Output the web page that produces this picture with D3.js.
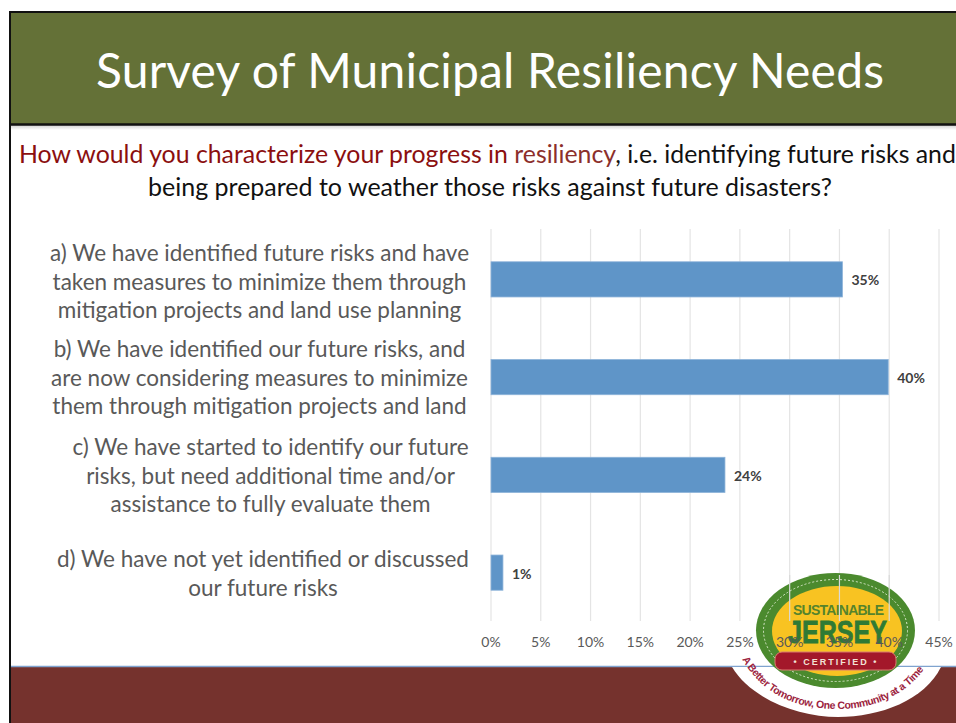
<!DOCTYPE html>
<html>
<head>
<meta charset="utf-8">
<script src="https://cdn.jsdelivr.net/npm/d3@7"></script>
<style>
    html, body { margin: 0; padding: 0; background: #fff; }
    svg { display: block; }
    text { font-family: Lato, "Open Sans", sans-serif; }
</style>
</head>
<body>
<div id="chart"></div>
<script>
// chart data
const categories = ["a", "b", "c", "d"];
const values = [35.3, 39.9, 23.5, 1.2];
const valueLabels = ["35%", "40%", "24%", "1%"];
const tickValues = [0, 5, 10, 15, 20, 25, 30, 35, 40, 45];
const categoryLines = [
    ["a) We have identified future risks and have", "taken measures to minimize them through", "mitigation projects and land use planning"],
    ["b) We have identified our future risks, and", "are now considering measures to minimize", "them through mitigation projects and land"],
    ["c) We have started to identify our future", "risks, but need additional time and/or", "assistance to fully evaluate them"],
    ["d) We have not yet identified or discussed", "our future risks"]
];
const titleText = "Survey of Municipal Resiliency Needs";

const width = 956, height = 723;
const svg = d3.select("#chart").append("svg")
    .attr("width", width)
    .attr("height", height);

// soft shadow under the header
const shadow = svg.append("defs").append("linearGradient")
    .attr("id", "headerShadow")
    .attr("x1", 0).attr("x2", 0).attr("y1", 0).attr("y2", 1);
shadow.append("stop").attr("offset", 0).attr("stop-color", "#cfcfcf");
shadow.append("stop").attr("offset", 1).attr("stop-color", "#ffffff");

// slide background bands
svg.append("rect").attr("x", 10).attr("y", 12).attr("width", 946).attr("height", 112)
    .attr("fill", "#647137");
svg.append("rect").attr("x", 10).attr("y", 125).attr("width", 946).attr("height", 5)
    .attr("fill", "url(#headerShadow)");
svg.append("rect").attr("x", 10).attr("y", 667).attr("width", 946).attr("height", 56)
    .attr("fill", "#75322d");
svg.append("line").attr("x1", 10).attr("x2", 956).attr("y1", 666.5).attr("y2", 666.5)
    .attr("stroke", "#7fa3cf").attr("stroke-width", 1.5);
// black frame
svg.append("line").attr("x1", 9).attr("x2", 956).attr("y1", 12).attr("y2", 12)
    .attr("stroke", "#111").attr("stroke-width", 2);
svg.append("line").attr("x1", 10).attr("x2", 956).attr("y1", 124.5).attr("y2", 124.5)
    .attr("stroke", "#111").attr("stroke-width", 2.5);
svg.append("line").attr("x1", 10).attr("x2", 10).attr("y1", 11).attr("y2", 723)
    .attr("stroke", "#111").attr("stroke-width", 2);

// title and question
svg.append("text")
    .attr("x", 490).attr("y", 88)
    .attr("text-anchor", "middle")
    .attr("fill", "#fff")
    .attr("textLength", 788)
    .style("font-size", "48px")
    .text(titleText);

const question = svg.append("text")
    .attr("x", 19).attr("y", 163)
    .attr("fill", "#111")
    .style("font-size", "24.85px");
question.append("tspan").attr("fill", "#8b0f0f").text("How would you characterize your progress in ");
question.append("tspan").attr("fill", "#8c2f2b").text("resiliency");
question.append("tspan").text(", i.e. identifying future risks and");

svg.append("text")
    .attr("x", 490).attr("y", 196)
    .attr("text-anchor", "middle")
    .attr("fill", "#111")
    .style("font-size", "25px")
    .text("being prepared to weather those risks against future disasters?");

// scales
const margin = { top: 229, left: 491, bottom: 621 };
const x = d3.scaleLinear()
    .domain([0, 45])
    .range([margin.left, 939]);
const y = d3.scaleBand()
    .domain(categories)
    .range([margin.top + 1.5, margin.bottom + 0.5])
    .paddingInner(0.64)
    .paddingOuter(0.32);

// gridlines
svg.append("g")
    .selectAll("line")
    .data(tickValues)
    .join("line")
    .attr("x1", d => x(d))
    .attr("x2", d => x(d))
    .attr("y1", margin.top)
    .attr("y2", margin.bottom)
    .attr("stroke", "#e4e4e4")
    .attr("stroke-width", 1.2);

// bars
svg.append("g")
    .selectAll("rect")
    .data(categories)
    .join("rect")
    .attr("x", x(0))
    .attr("y", d => y(d))
    .attr("width", (d, i) => x(values[i]) - x(0))
    .attr("height", y.bandwidth())
    .attr("fill", "#5f95c8")
    .attr("stroke", "#8db3d9")
    .attr("stroke-width", 0.8);

// value labels
svg.append("g")
    .selectAll("text")
    .data(categories)
    .join("text")
    .attr("x", (d, i) => x(values[i]) + 9)
    .attr("y", d => y(d) + y.bandwidth() / 2 + 6)
    .attr("fill", "#404040")
    .style("font-size", "14px")
    .style("font-weight", 700)
    .text((d, i) => valueLabels[i]);

// category labels, each block has its own centre
const labelCentres = [259.5, 259.5, 270.5, 263];
const labelTops = [261, 357, 455, 567];
categories.forEach((c, i) => {
    svg.append("g")
        .selectAll("text")
        .data(categoryLines[i])
        .join("text")
        .attr("x", labelCentres[i])
        .attr("y", (d, j) => labelTops[i] + j * 28.7)
        .attr("text-anchor", "middle")
        .attr("fill", "#595959")
        .style("font-size", "22.5px")
        .text(d => d);
});

// logo: white badge that hangs over the footer
const logoFont = '"Liberation Sans", Arial, sans-serif';
const logo = svg.append("g").attr("class", "logo");
logo.append("path")
    .attr("d", "M732,667 C752,700 800,717 838,717 C880,717 925,700 941,667 Z")
    .attr("fill", "#fff");
logo.append("ellipse").attr("cx", 835.5).attr("cy", 630.5).attr("rx", 79.5).attr("ry", 57.5)
    .attr("fill", "#4b8a2e");
logo.append("ellipse").attr("cx", 835.5).attr("cy", 630.5).attr("rx", 72).attr("ry", 51)
    .attr("fill", "none").attr("stroke", "#d7e6c8").attr("stroke-width", 1).attr("stroke-dasharray", "2 2");
logo.append("ellipse").attr("cx", 837).attr("cy", 631).attr("rx", 65).attr("ry", 45)
    .attr("fill", "#f8c322");
logo.append("text").attr("x", 838.5).attr("y", 615)
    .attr("text-anchor", "middle").attr("fill", "#55832c")
    .attr("textLength", 91)
    .style("font-family", logoFont)
    .style("font-size", "14px").style("font-weight", 700)
    .text("SUSTAINABLE");
logo.append("text").attr("x", 837.5).attr("y", 643)
    .attr("text-anchor", "middle").attr("fill", "#2f7a35")
    .attr("stroke", "#2f7a35").attr("stroke-width", 0.8)
    .attr("textLength", 99).attr("lengthAdjust", "spacingAndGlyphs")
    .style("font-family", logoFont)
    .style("font-size", "32px").style("font-weight", 700)
    .text("JERSEY");
logo.append("rect").attr("x", 775).attr("y", 652).attr("width", 121).attr("height", 18).attr("rx", 7)
    .attr("fill", "#a3182a").attr("stroke", "#d97a70");
logo.append("text").attr("x", 836).attr("y", 664.5)
    .attr("text-anchor", "middle").attr("fill", "#f3e3d6")
    .style("font-family", logoFont)
    .style("font-size", "9px").style("font-weight", 700).style("letter-spacing", "2px")
    .text("• CERTIFIED •");
logo.append("defs").append("path")
    .attr("id", "logoArc")
    .attr("d", "M742,659 C765,698 800,709 838,709 C880,709 917,690 934,652");
logo.append("text")
    .attr("fill", "#9c2440")
    .style("font-family", logoFont)
    .style("font-size", "10.5px").style("font-weight", 700)
    .append("textPath")
    .attr("href", "#logoArc")
    .attr("textLength", 212)
    .text("A Better Tomorrow, One Community at a Time");

// the gridlines show faintly through the logo
svg.append("g")
    .selectAll("line")
    .data(tickValues.filter(d => d >= 30 && d <= 40))
    .join("line")
    .attr("x1", d => x(d))
    .attr("x2", d => x(d))
    .attr("y1", 575)
    .attr("y2", margin.bottom)
    .attr("stroke", "#d9d9d9")
    .attr("stroke-width", 1.2);

// x axis tick labels sit on top of the logo
svg.append("g")
    .selectAll("text")
    .data(tickValues)
    .join("text")
    .attr("x", d => x(d))
    .attr("y", 647)
    .attr("text-anchor", "middle")
    .attr("fill", "#595959")
    .style("font-size", "14px")
    .text(d => d + "%");
</script>
</body>
</html>
